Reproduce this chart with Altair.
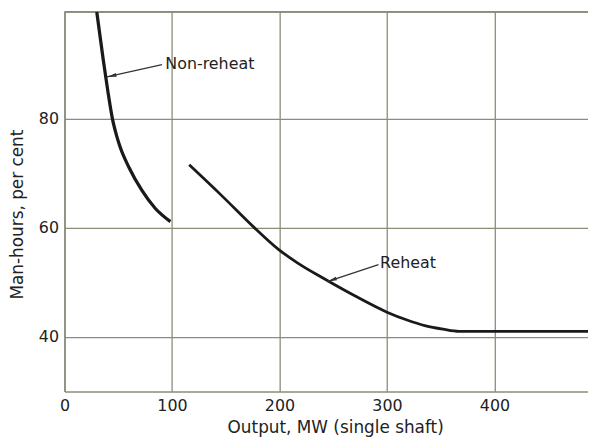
import altair as alt
import pandas as pd

# ---- data ----
nonreheat_x = [30, 36, 40.3, 44.5, 48.5, 51.5, 60, 72, 84.5, 98.5]
nonreheat_y = [99.5, 90.8, 85.0, 80.0, 76.8, 74.9, 71.0, 66.8, 63.5, 61.1]

reheat_x = [116, 146, 177, 199, 217, 240, 270, 300, 318, 336, 352, 367, 400, 487]
reheat_y = [71.5, 65.9, 59.9, 56.0, 53.5, 50.8, 47.5, 44.5, 43.1, 42.0, 41.4, 41.0, 41.0, 41.0]

label_text = ["Non-reheat", "Reheat"]
label_x = [93.8, 293.6]
label_y = [90.0, 53.5]

arrow_x = [90.7, 292.1]
arrow_y = [89.85, 53.2]
arrow_tip_x = [39.4, 244.4]
arrow_tip_y = [87.6, 50.1]
head_x = [43.9, 248.8]
head_y = [87.8, 50.4]
head_angle = [347, 342]

x_ticks = [0, 100, 200, 300, 400]
y_ticks = [40, 60, 80]

GRID = "#8c8c78"
INK = "#1a1a1a"
FONT = "DejaVu Sans"
W, H = 528, 383

curves = pd.concat([
    pd.DataFrame({"x": nonreheat_x, "y": nonreheat_y, "s": "Non-reheat", "o": range(len(nonreheat_x))}),
    pd.DataFrame({"x": reheat_x, "y": reheat_y, "s": "Reheat", "o": range(len(reheat_x))}),
])
labels = pd.DataFrame({"t": label_text, "x": label_x, "y": label_y})
arrows = pd.DataFrame({"x": arrow_x, "y": arrow_y, "x2": arrow_tip_x, "y2": arrow_tip_y})
heads = pd.DataFrame({"x": head_x, "y": head_y, "a": head_angle})

xs = alt.Scale(domain=[0, 487], nice=False, zero=False)
ys = alt.Scale(domain=[29.95, 99.53], nice=False, zero=False)

xaxis = alt.Axis(values=x_ticks, grid=True, gridColor=GRID, gridWidth=1.3, gridOpacity=1,
                 domainColor=GRID, domainWidth=1.6, tickSize=0, labelFlush=False,
                 labelFont=FONT, labelFontSize=16, labelColor="#222", labelPadding=6,
                 title="Output, MW (single shaft)", titleFont=FONT, titleFontSize=17,
                 titleFontWeight="normal", titleColor="#222", titlePadding=6,
                 titleX=273, titleAlign="center")
yaxis = alt.Axis(values=y_ticks, grid=True, gridColor=GRID, gridWidth=1.3, gridOpacity=1,
                 domainColor=GRID, domainWidth=1.6, tickSize=0,
                 labelFont=FONT, labelFontSize=16, labelColor="#222", labelPadding=6,
                 title="Man-hours, per cent", titleFont=FONT, titleFontSize=17,
                 titleFontWeight="normal", titleColor="#222", titlePadding=12,
                 titleY=204, titleAlign="center")

base_lines = alt.Chart(curves).mark_line(color=INK, clip=True, interpolate="monotone").encode(
    x=alt.X("x:Q", scale=xs, axis=xaxis),
    y=alt.Y("y:Q", scale=ys, axis=yaxis),
    detail="s:N",
    order="o:Q",
    strokeWidth=alt.condition(alt.datum.s == "Non-reheat", alt.value(3.3), alt.value(2.8)),
)

top_rule = alt.Chart(labels).mark_rule(color=GRID, strokeWidth=1.6).encode(
    x=alt.value(0), x2=alt.value(W), y=alt.value(0)
)

arrow_lines = alt.Chart(arrows).mark_rule(color="#333", strokeWidth=1.3).encode(
    x=alt.X("x:Q", scale=xs), y=alt.Y("y:Q", scale=ys),
    x2="x2:Q", y2="y2:Q",
)

arrow_heads = alt.Chart(heads).mark_point(
    shape="M-1,0L1,-0.4L1,0.4Z", filled=True, color="#333", size=90, opacity=1
).encode(
    x=alt.X("x:Q", scale=xs), y=alt.Y("y:Q", scale=ys),
    angle=alt.Angle("a:Q", scale=None),
)

text = alt.Chart(labels).mark_text(
    align="left", baseline="middle", font=FONT, fontSize=16, color="#222"
).encode(
    x=alt.X("x:Q", scale=xs), y=alt.Y("y:Q", scale=ys), text="t:N"
)

chart = alt.layer(top_rule, base_lines, arrow_lines, arrow_heads, text).properties(
    width=W, height=H,
    autosize=alt.AutoSizeParams(type="none"),
    padding={"left": 57, "top": 2, "right": 0, "bottom": 50},
    background="white",
).configure_view(strokeWidth=0)

chart.save("out.html", embed_options={"renderer": "svg", "actions": False})
